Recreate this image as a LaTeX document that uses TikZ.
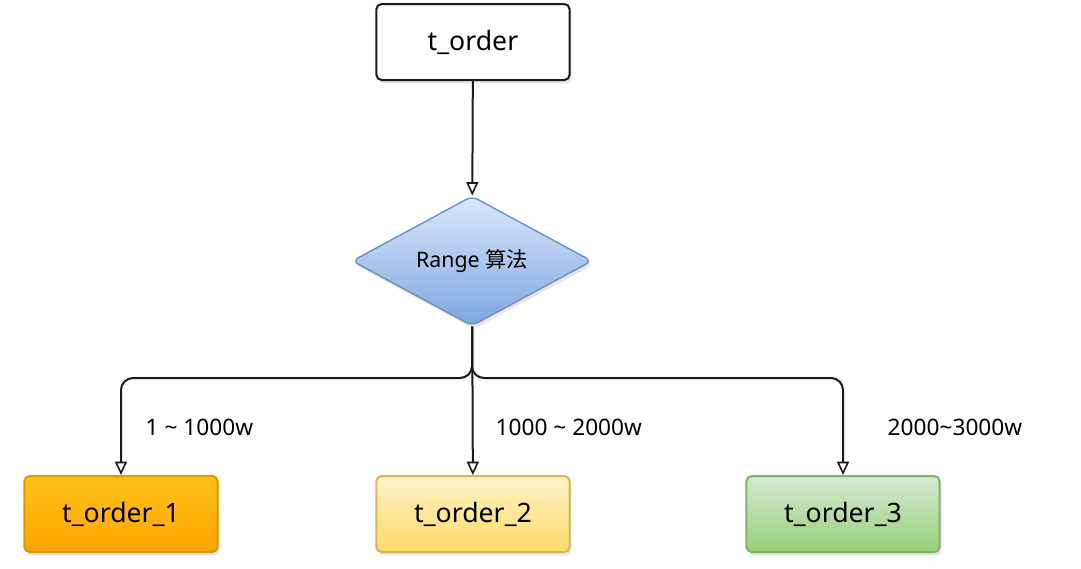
\documentclass[tikz,border=0pt]{standalone}
\usepackage{fontspec}
\setmainfont{Noto Sans}
\newfontfamily\cjk{Noto Sans CJK SC}
\usetikzlibrary{shapes.geometric,arrows.meta,shadows}

\definecolor{boxline}{HTML}{1A1A1A}
\definecolor{orangetop}{HTML}{FFC21A}
\definecolor{orangebot}{HTML}{FFA500}
\definecolor{orangeline}{HTML}{D79B00}
\definecolor{yellowtop}{HTML}{FFF4C8}
\definecolor{yellowbot}{HTML}{FFD966}
\definecolor{yellowline}{HTML}{D6B656}
\definecolor{greentop}{HTML}{D5E8D4}
\definecolor{greenbot}{HTML}{97D077}
\definecolor{greenline}{HTML}{82B366}
\definecolor{bluetop}{HTML}{DAE8FC}
\definecolor{bluebot}{HTML}{7EA6E0}
\definecolor{blueline}{HTML}{6C8EBF}

\begin{document}
\begin{tikzpicture}[x=0.75pt,y=-0.75pt,
tablebox/.style={draw=boxline, line width=1.5pt, rounded corners=4pt,
  minimum width=145pt, minimum height=57pt, font=\fontsize{20}{24}\selectfont,
  drop shadow={opacity=0.2, shadow xshift=1.5pt, shadow yshift=-2.5pt}},
router/.style={diamond, draw=blueline, line width=1pt, rounded corners=5pt,
  top color=bluetop, bottom color=bluebot, aspect=1.85, inner sep=0pt,
  minimum width=180pt, minimum height=97.5pt, font=\fontsize{16}{19}\selectfont,
  drop shadow={opacity=0.2, shadow xshift=1.5pt, shadow yshift=-2.5pt}},
link/.style={draw=boxline, line width=1.5pt, rounded corners=9pt,
  -{Triangle[open, length=10pt, width=9pt, line width=1.2pt]}},
bucket/.style={font=\fontsize{17}{20}\selectfont, anchor=west}]
\tikzstyle{every node}=[text=black]

\useasboundingbox (0,0) rectangle (1081,568);

\node (Root) [tablebox, fill=white] at (473,42) {t\_order};
\node (Algo) [router] at (472,261) {Range {\cjk 算法}};

\node (T1) [tablebox, draw=orangeline, top color=orangetop, bottom color=orangebot] at (121,514) {t\_order\_1};
\node (T2) [tablebox, draw=yellowline, top color=yellowtop, bottom color=yellowbot] at (473,514) {t\_order\_2};
\node (T3) [tablebox, draw=greenline, top color=greentop, bottom color=greenbot] at (843,514) {t\_order\_3};

\coordinate (Split) at (472,378);

\draw[link] (Root) -- (Algo);
\draw[link] (Algo) -- (Split) -| (T1);
\draw[link] (Algo) -- (T2);
\draw[link] (Algo) -- (Split) -| (T3);

\node (R1) [bucket] at (141,427) {1 \textasciitilde\ 1000w};
\node (R2) [bucket] at (491,427) {1000 \textasciitilde\ 2000w};
\node (R3) [bucket] at (883,427) {2000\textasciitilde 3000w};

\end{tikzpicture}
\end{document}
